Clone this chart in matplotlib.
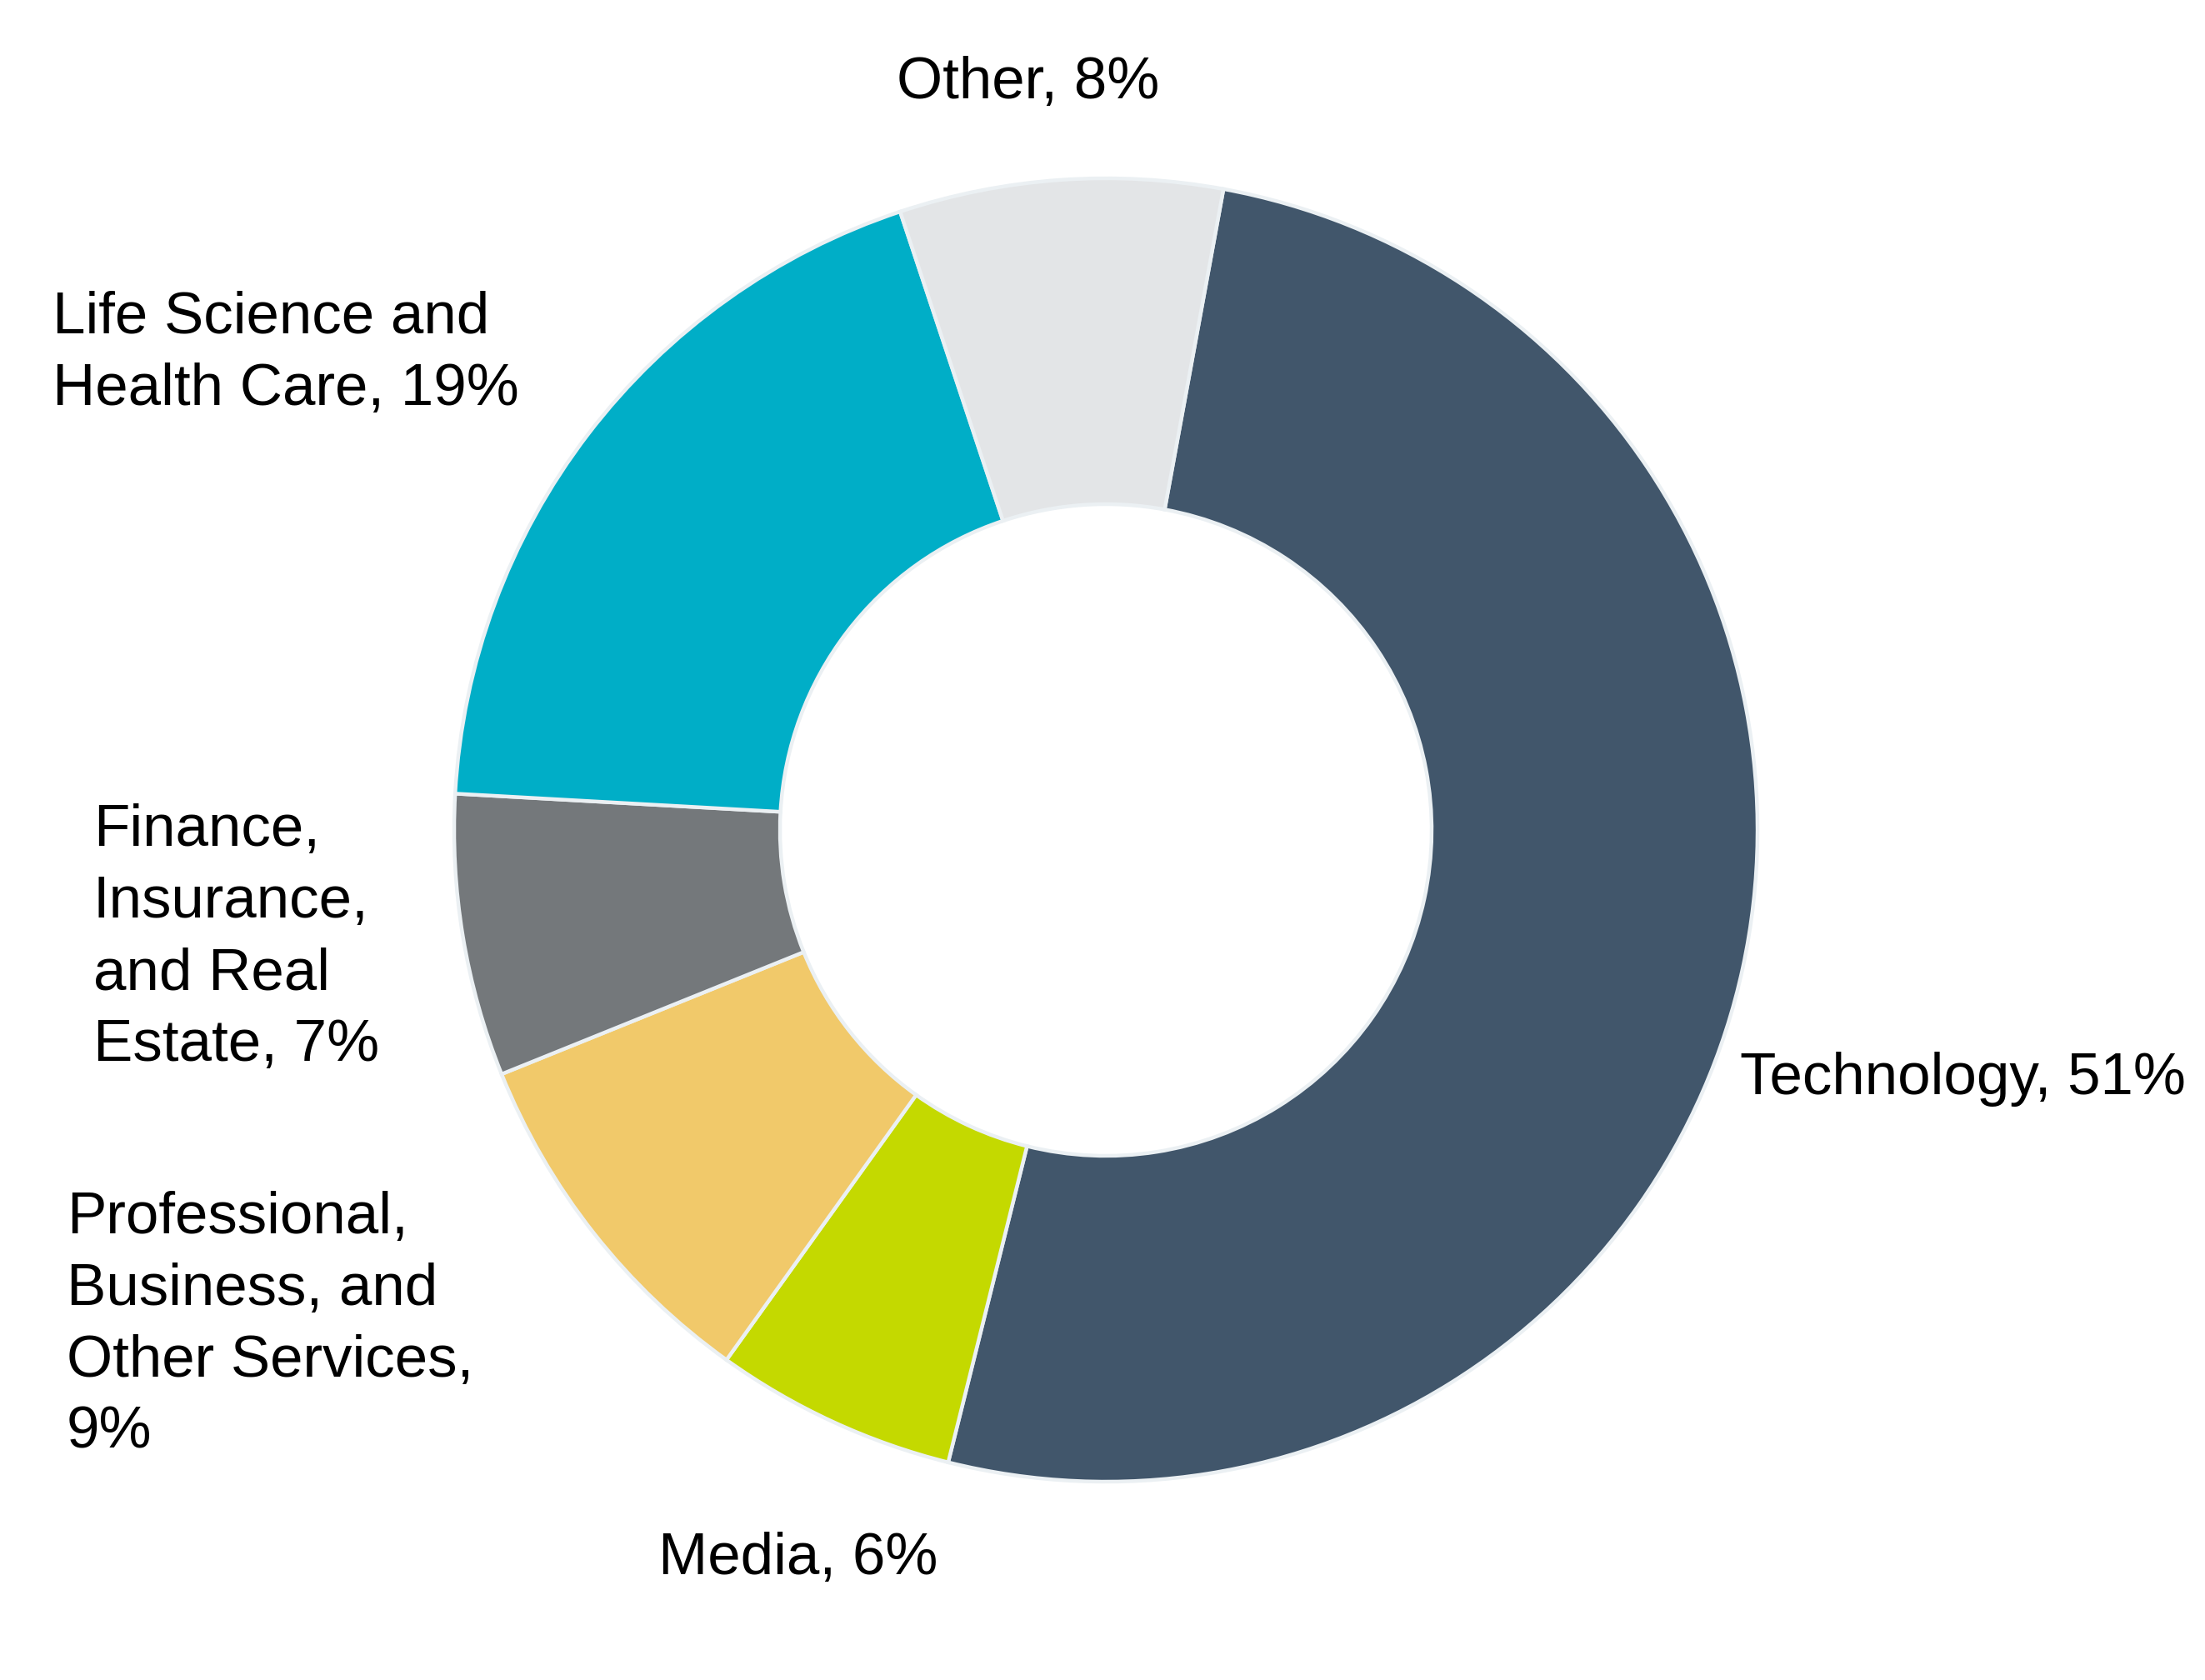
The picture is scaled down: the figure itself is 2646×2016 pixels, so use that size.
import matplotlib
matplotlib.use("Agg")
import matplotlib.pyplot as plt

# dados do gráfico (sentido horário a partir do topo)
sectors = ["Technology", "Media", "Professional, Business, and Other Services",
           "Finance, Insurance, and Real Estate", "Life Science and Health Care", "Other"]
shares = [51, 6, 9, 7, 19, 8]
colors = ["#41566B", "#C4D900", "#F1C96A", "#74787B", "#00AEC7", "#E3E5E7"]

# rótulos como aparecem, quebrados em linhas
label_lines = [
    ["Technology, 51%"],
    ["Media, 6%"],
    ["Professional,", "Business, and", "Other Services,", "9%"],
    ["Finance,", "Insurance,", "and Real", "Estate, 7%"],
    ["Life Science and", "Health Care, 19%"],
    ["Other, 8%"],
]

W, H = 2646, 2016
fig = plt.figure(figsize=(W / 100, H / 100), dpi=100)
ax = fig.add_axes([0, 0, 1, 1])

cx, cy, R = 1327, H - 996, 782
ax.pie(shares, colors=colors, startangle=79.6, counterclock=False,
       center=(cx, cy), radius=R, frame=True,
       wedgeprops=dict(width=R * 0.5, edgecolor="#EBF0F3", linewidth=3.2))
ax.set_xlim(0, W)
ax.set_ylim(0, H)
ax.set_aspect("equal")
ax.axis("off")

# posição do texto em pixels (x, linha de base da 1a linha, alinhamento)
label_pos = [
    (2088, 1313, "left"),
    (958, 1889, "center"),
    (80, 1480, "left"),
    (112, 1015, "left"),
    (63, 400, "left"),
    (1234, 118, "center"),
]
step = 86
for lines, (x, y0, ha) in zip(label_lines, label_pos):
    for i, txt in enumerate(lines):
        ax.text(x, H - (y0 + i * step), txt, ha=ha, va="baseline",
                fontsize=51, family="Liberation Sans", color="black")

fig.savefig("out.png", dpi=100, facecolor="white")
